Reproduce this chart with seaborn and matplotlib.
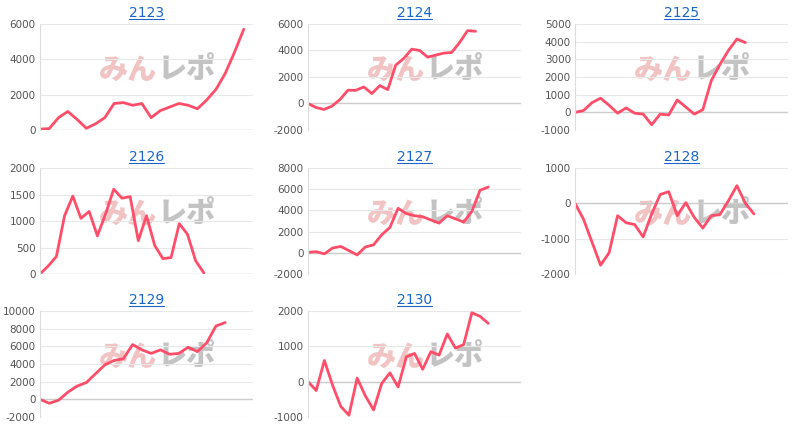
import numpy as np
import pandas as pd
import matplotlib
matplotlib.use("Agg")
import matplotlib.pyplot as plt
import seaborn as sns

titles = ["2123", "2124", "2125", "2126", "2127", "2128", "2129", "2130"]

v2123 = [50, 80, 700, 1050, 600, 100, 350, 700, 1500, 1550, 1400, 1500, 700, 1100,
         1300, 1500, 1400, 1200, 1700, 2300, 3200, 4400, 5700]
v2124 = [0, -300, -450, -200, 300, 1000, 1000, 1250, 750, 1350, 1050, 2900, 3400,
         4100, 4000, 3500, 3650, 3800, 3850, 4600, 5500, 5450]
v2125 = [0, 100, 550, 800, 400, -50, 250, -50, -100, -700, -100, -150, 700, 300,
         -100, 150, 1800, 2700, 3500, 4150, 3950]
v2126 = [0, 150, 330, 1100, 1470, 1050, 1180, 720, 1130, 1600, 1430, 1460, 630, 1100,
         540, 290, 310, 950, 750, 250, 20]
v2127 = [50, 100, -100, 450, 600, 200, -200, 550, 750, 1700, 2400, 4200, 3700, 3500,
         3400, 3100, 2800, 3500, 3200, 2900, 3900, 5900, 6200]
v2128 = [0, -450, -1100, -1750, -1400, -350, -550, -600, -950, -300, 250, 330, -350,
         20, -400, -700, -350, -320, 70, 500, 0, -300]
v2129 = [0, -450, -100, 800, 1500, 1900, 2900, 3900, 4400, 4600, 6200, 5600, 5200,
         5600, 5100, 5200, 5900, 5400, 6400, 8300, 8700]
v2130 = [0, -250, 600, -100, -700, -950, 100, -400, -800, -50, 250, -150, 700, 800,
         350, 850, 750, 1350, 950, 1050, 1950, 1850, 1650]

series = [v2123, v2124, v2125, v2126, v2127, v2128, v2129, v2130]
x_span = [23, 26.7, 25, 26, 26, 25, 23, 26]
y_ticks = [np.arange(0, 6001, 2000), np.arange(-2000, 6001, 2000),
           np.arange(-1000, 5001, 1000), np.arange(0, 2001, 500),
           np.arange(-2000, 8001, 2000), np.arange(-2000, 1001, 1000),
           np.arange(-2000, 10001, 2000), np.arange(-1000, 2001, 1000)]

sns.set_style("white")
plt.rcParams['font.family'] = ['Noto Sans CJK JP', 'DejaVu Sans']

W, H = 800, 434
fig = plt.figure(figsize=(8, 4.34), dpi=100)
lefts = [40, 308, 575]
tops = [24, 168, 311]
aw, ah = 213, 106

for i, (name, vals) in enumerate(zip(titles, series)):
    r, c = divmod(i, 3)
    ax = fig.add_axes([lefts[c] / W, 1 - (tops[r] + ah) / H, aw / W, ah / H])
    df = pd.DataFrame({"x": np.arange(len(vals)), "y": vals})
    sns.lineplot(data=df, x="x", y="y", ax=ax, color="#ff4d6a", linewidth=2)
    yt = y_ticks[i]
    ax.set_ylim(yt[0], yt[-1])
    ax.set_yticks(yt)
    ax.set_yticklabels([str(t) for t in yt], fontsize=7.5, color="#555555",
                       family="DejaVu Sans")
    ax.set_xlim(0, x_span[i])
    ax.set_xticks([])
    ax.set_xlabel("")
    ax.set_ylabel("")
    ax.grid(axis="y", color="#e8e8e8", linewidth=0.8)
    ax.axhline(0, color="#cccccc", linewidth=1, zorder=1)
    for s in ["top", "right", "bottom"]:
        ax.spines[s].set_visible(False)
    ax.spines["left"].set_color("#dddddd")
    ax.tick_params(axis="y", length=0, pad=3)
    ax.set_title(name, fontsize=10, color="#1a66cc", pad=5, family="DejaVu Sans")
    # watermark
    ax.text(0.55, 0.57, "みん", transform=ax.transAxes, fontsize=21, fontweight="black",
            color="#e07a7a", alpha=0.45, ha="right", va="center", zorder=0)
    ax.text(0.555, 0.57, "レポ", transform=ax.transAxes, fontsize=21, fontweight="black",
            color="#888888", alpha=0.5, ha="left", va="center", zorder=0)

fig.canvas.draw()
# underline titles like links
for ax in fig.axes:
    bb = ax.title.get_window_extent()
    y = (bb.y0 + 1) / H
    fig.add_artist(plt.Line2D([bb.x0 / W, bb.x1 / W], [y, y], color="#1a66cc", linewidth=0.8))

fig.savefig("out.png", dpi=100)
